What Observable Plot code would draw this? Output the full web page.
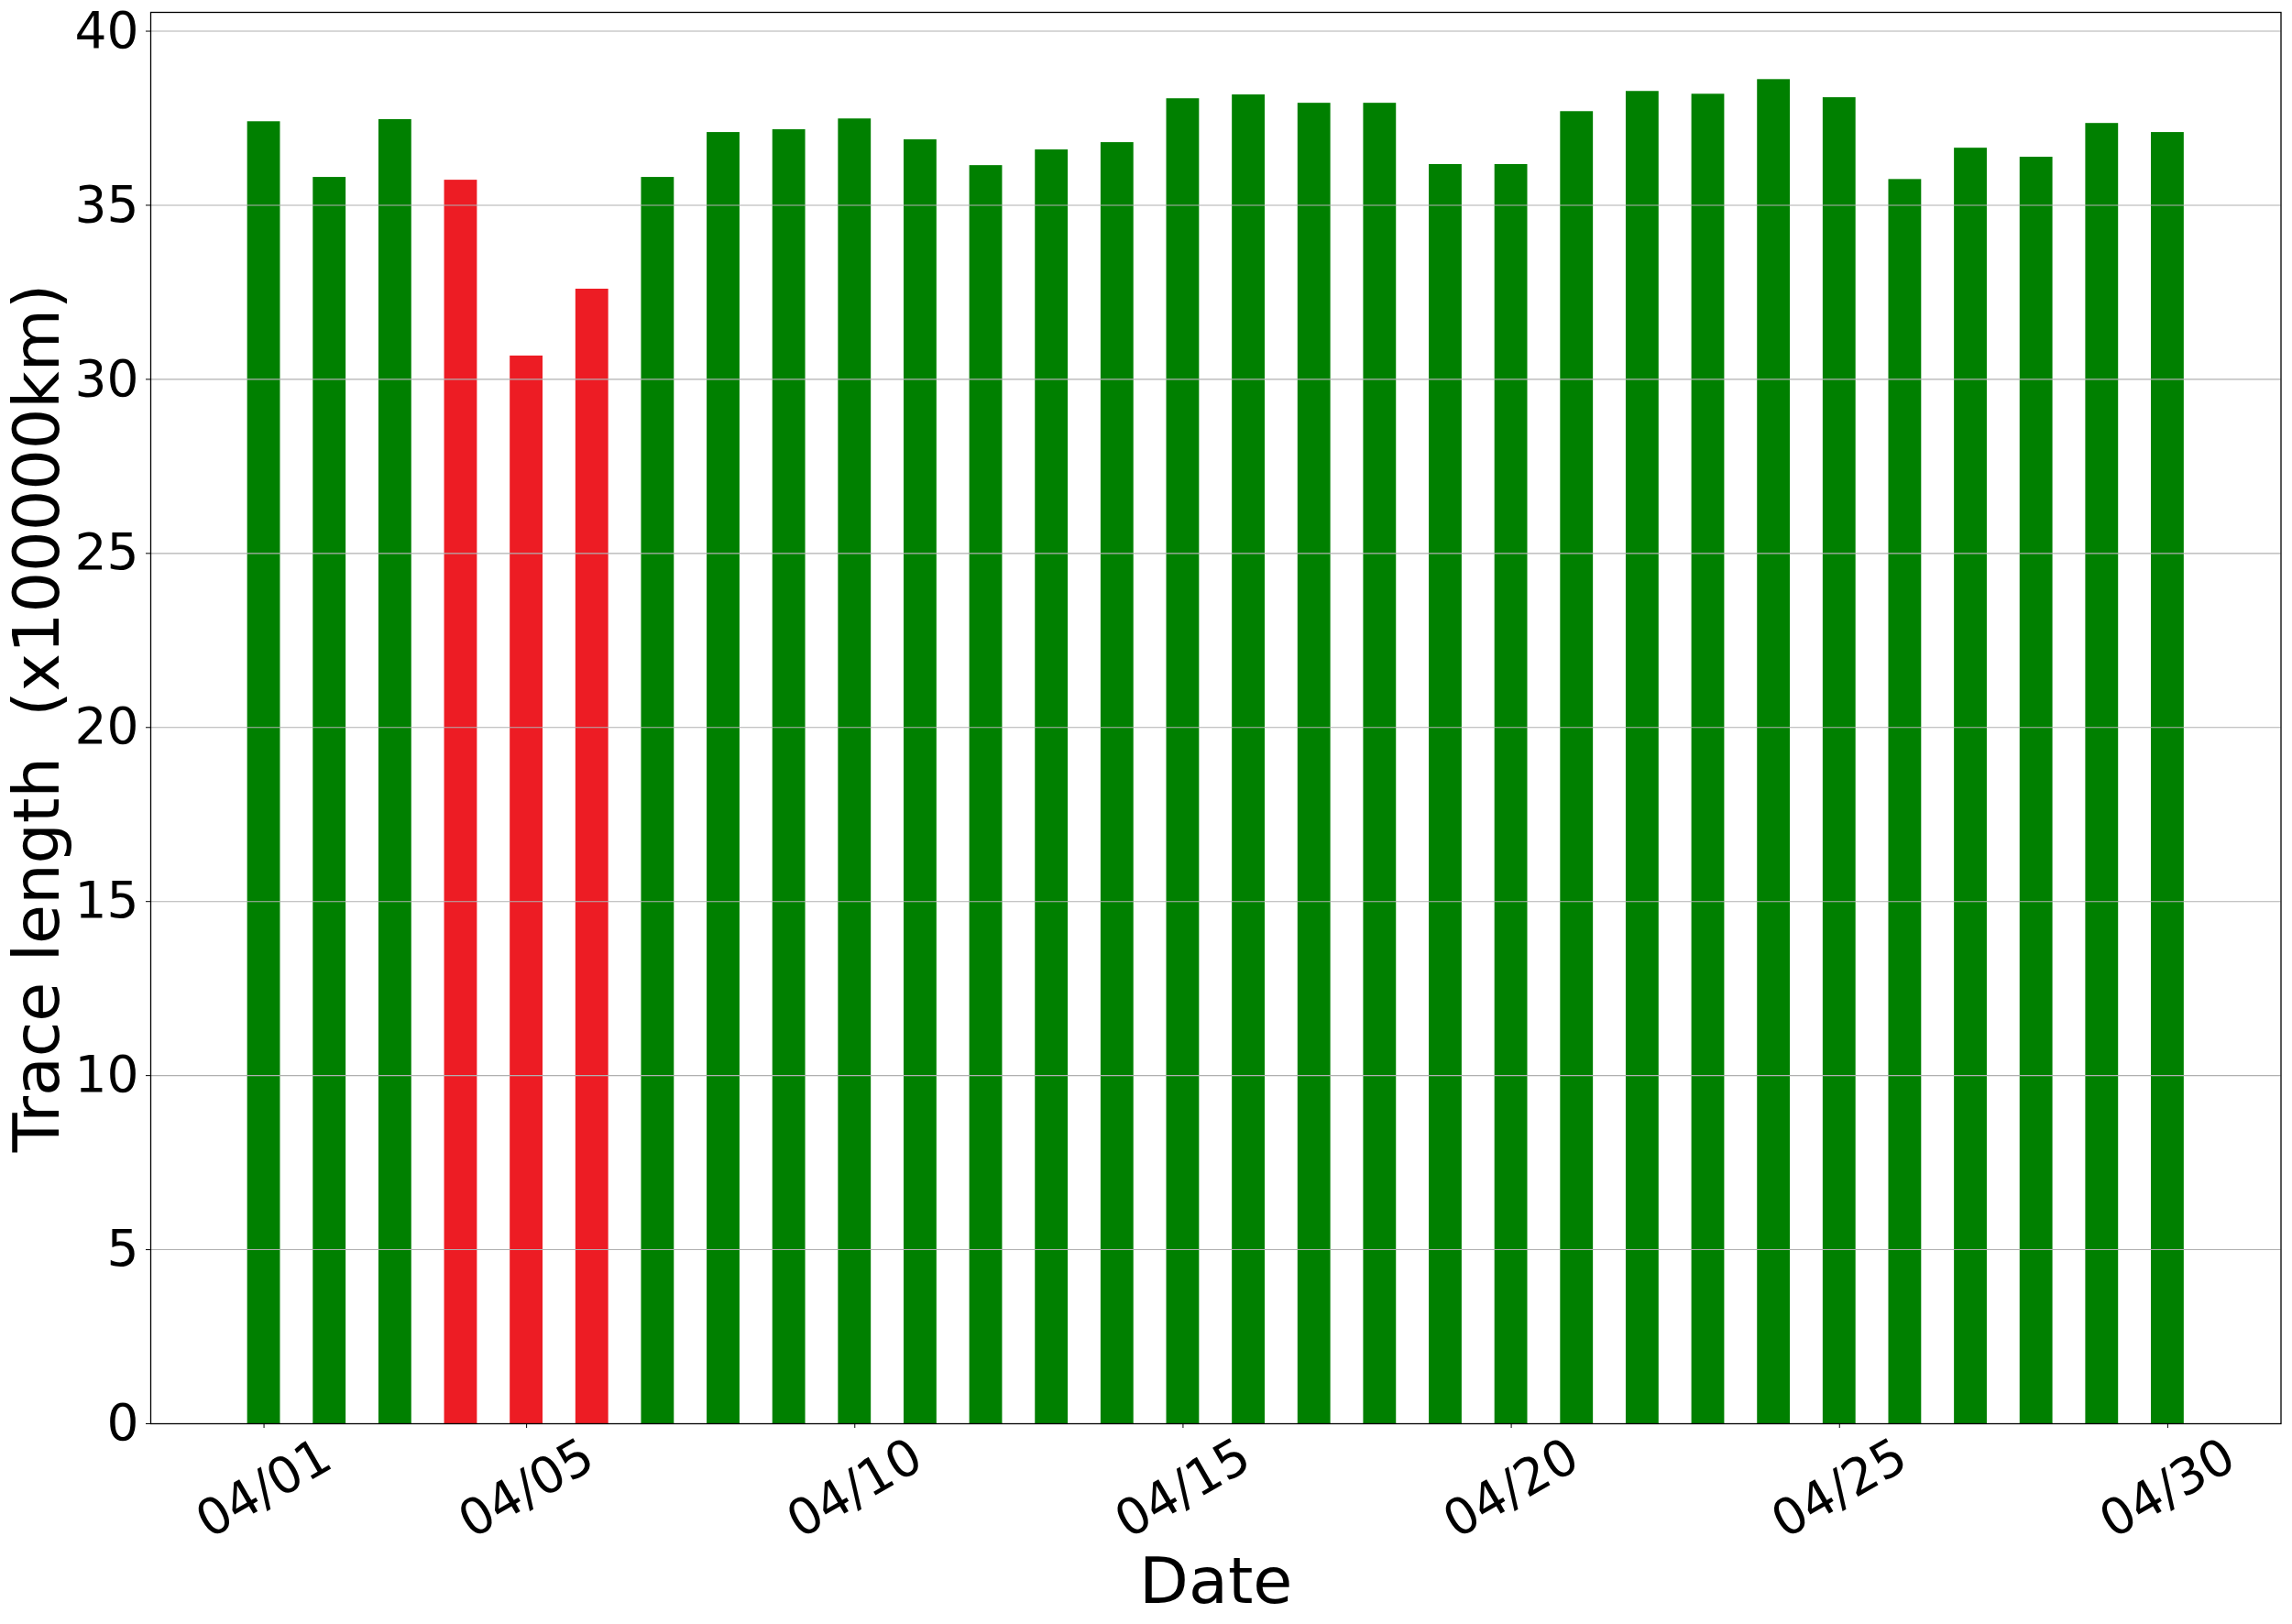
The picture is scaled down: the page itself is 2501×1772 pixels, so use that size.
<!DOCTYPE html>
<html>
<head>
<meta charset="utf-8">
<script src="https://cdn.jsdelivr.net/npm/d3@7"></script>
<script src="https://cdn.jsdelivr.net/npm/@observablehq/plot@0.6"></script>
<style>
  html, body { margin: 0; padding: 0; background: #fff; }
  #chart svg { display: block; font-family: "DejaVu Sans", sans-serif; }
</style>
</head>
<body>
<div id="chart"></div>
<script>
// ---- data ----
const dates = ["04/01","04/02","04/03","04/04","04/05","04/06","04/07","04/08","04/09","04/10",
               "04/11","04/12","04/13","04/14","04/15","04/16","04/17","04/18","04/19","04/20",
               "04/21","04/22","04/23","04/24","04/25","04/26","04/27","04/28","04/29","04/30"];
const traceLength = [37.40, 35.80, 37.46, 35.72, 30.67, 32.59, 35.80, 37.09, 37.17, 37.48,
                     36.88, 36.14, 36.59, 36.80, 38.06, 38.17, 37.93, 37.93, 36.17, 36.17,
                     37.69, 38.27, 38.19, 38.61, 38.09, 35.74, 36.64, 36.38, 37.35, 37.09];
const status = ["normal","normal","normal","low","low","low","normal","normal","normal","normal",
                "normal","normal","normal","normal","normal","normal","normal","normal","normal","normal",
                "normal","normal","normal","normal","normal","normal","normal","normal","normal","normal"];
const xTickDates = ["04/01","04/05","04/10","04/15","04/20","04/25","04/30"];
const yTicks = [0, 5, 10, 15, 20, 25, 30, 35, 40];
const yLabel = "Trace length  (x100000km)";
const xLabel = "Date";

// ---- build ----
const data = dates.map((d, i) => ({day: i + 1, date: d, value: traceLength[i], status: status[i]}));
const dayOf = d => dates.indexOf(d) + 1;
const xTicks = xTickDates.map(dayOf);

const halfBar = 0.25;
const lo = d3.min(data, d => d.day) - halfBar;
const hi = d3.max(data, d => d.day) + halfBar;
const xPad = 0.05 * (hi - lo);
const yMax = d3.max(traceLength) * 1.05;

const W = 2501, H = 1772;
const mL = 164, mR = 12.5, mT = 13, mB = 219;

const chart = Plot.plot({
  width: W,
  height: H,
  marginLeft: mL,
  marginRight: mR,
  marginTop: mT,
  marginBottom: mB,
  style: {fontFamily: "DejaVu Sans, sans-serif", background: "#fff", color: "#000"},
  x: {type: "linear", domain: [lo - xPad, hi + xPad]},
  y: {domain: [0, yMax]},
  color: {domain: ["normal", "low"], range: ["#008000", "#ed1c24"]},
  marks: [
    Plot.rectY(data, {x1: d => d.day - halfBar, x2: d => d.day + halfBar, y1: 0, y2: "value", fill: "status"}),
    Plot.ruleY(yTicks, {stroke: "#b0b0b0", strokeWidth: 1.1}),
    Plot.axisY({ticks: yTicks, tickSize: 5, tickPadding: 8, fontSize: 55, label: null, stroke: "#000"}),
    Plot.axisX({ticks: xTicks, tickSize: 5, tickFormat: () => "", label: null, stroke: "#000"}),
    Plot.text(xTicks, {x: d => d, text: d => dates[d - 1], frameAnchor: "bottom", dy: 71,
      rotate: -30, textAnchor: "middle", lineAnchor: "middle", fontSize: 55, fill: "#000"}),
    Plot.text([xLabel], {frameAnchor: "bottom", dy: 173, text: d => d, fontSize: 70,
      textAnchor: "middle", lineAnchor: "middle", fill: "#000"}),
    Plot.text([yLabel], {frameAnchor: "left", dx: -(mL - 41), text: d => d, fontSize: 70,
      rotate: -90, textAnchor: "middle", lineAnchor: "middle", fill: "#000"}),
    Plot.frame({stroke: "#000", strokeWidth: 1.3})
  ]
});
document.getElementById("chart").appendChild(chart);
</script>
</body>
</html>
